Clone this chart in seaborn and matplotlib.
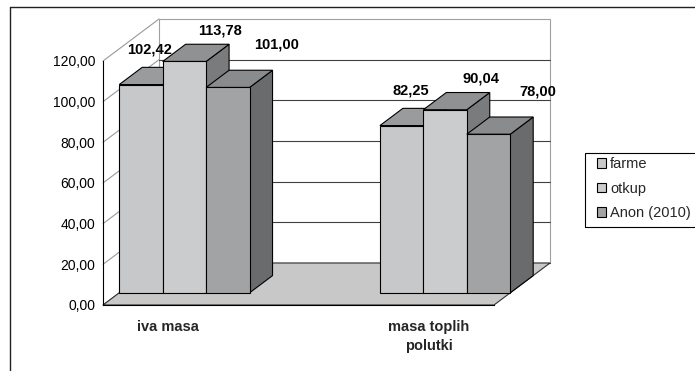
import numpy as np
import pandas as pd
import matplotlib
matplotlib.use("Agg")
import matplotlib.pyplot as plt
from matplotlib.patches import Polygon, Rectangle
from matplotlib.lines import Line2D
from matplotlib.transforms import Affine2D
import seaborn as sns

# ---------------- data ----------------
categories = ["iva masa", "", "masa toplih\npolutki"]
series = ["farme", "otkup", "Anon (2010)"]
farme = [102.42, 82.25]
otkup = [113.78, 90.04]
anon = [101.00, 78.00]
data_categories = ["iva masa", "masa toplih\npolutki"]
y_ticks = [0, 20, 40, 60, 80, 100, 120]
y_tick_labels = ["0,00", "20,00", "40,00", "60,00", "80,00", "100,00", "120,00"]

rows = []
for name, vals in zip(series, [farme, otkup, anon]):
    for cat, v in zip(data_categories, vals):
        rows.append({"kategorija": cat, "serija": name, "vrijednost": v})
df = pd.DataFrame(rows)

# ---------------- style ----------------
sns.set_style("white")
plt.rcParams["font.family"] = ["Liberation Sans", "DejaVu Sans"]

front_colors = ["#c7c8ca", "#cbcccd", "#a2a3a5"]
top_colors = ["#9a9b9d", "#909193", "#8a8b8d"]
side_colors = ["#7c7d7f", "#7a7b7d", "#6a6b6d"]

W, H = 695, 371
fig = plt.figure(figsize=(W / 100, H / 100), dpi=100)
ax = fig.add_axes([103 / W, 1 - 305 / H, 391 / W, 244 / H])

sns.barplot(data=df, x="kategorija", y="vrijednost", hue="serija",
            order=categories, hue_order=series, palette=front_colors,
            width=1.0, errorbar=None, edgecolor="black", linewidth=0.8,
            saturation=1, ax=ax)

ax.set_xlim(-0.5, 2.5)
ax.set_ylim(0, 120)
ax.set_xlabel("")
ax.set_ylabel("")

# collect bars (with their series index) before adding other patches
bars = []
for si, cont in enumerate(ax.containers):
    for p in cont:
        h = p.get_height()
        if np.isfinite(h) and h > 0:
            bars.append((si, p))

# depth vector (data units) of the 3D box
px_x = 391 / 3.0          # pixels per category
px_y = 244 / 120.0        # pixels per value unit
Dx, Dy = 56 / px_x, 42 / px_y
front_frac, bar_frac = 0.29, 0.41

# back wall + gridlines
wall = Polygon([(-0.5 + Dx, Dy), (2.5 + Dx, Dy), (2.5 + Dx, 120 + Dy), (-0.5 + Dx, 120 + Dy)],
               closed=True, facecolor="white", edgecolor="#a0a0a0", lw=0.8,
               clip_on=False, zorder=0.5)
ax.add_patch(wall)
for t in y_ticks[:-1]:
    ax.plot([-0.5 + Dx, 2.5 + Dx], [t + Dy, t + Dy], color="#404040", lw=0.8,
            clip_on=False, zorder=0.6)
for t in y_ticks:
    ax.plot([-0.5, -0.5 + Dx], [t, t + Dy], color="#999999", lw=0.8,
            clip_on=False, zorder=0.6)

floor = Polygon([(-0.5, 0), (2.5, 0), (2.5 + Dx, Dy), (-0.5 + Dx, Dy)], closed=True,
                facecolor="#c8c8c8", edgecolor="#303030", lw=0.8, clip_on=False, zorder=0.7)
ax.add_patch(floor)

# 3D bars: shift fronts to their depth and add top/side faces
shift = Affine2D().translate(front_frac * Dx, front_frac * Dy) + ax.transData
bdx, bdy = bar_frac * Dx, bar_frac * Dy
for si, p in bars:
    x, w, h = p.get_x(), p.get_width(), p.get_height()
    z = 2 + x
    p.set_transform(shift)
    p.set_zorder(z + 0.02)
    p.set_clip_on(False)
    side = Polygon([(x + w, 0), (x + w + bdx, bdy), (x + w + bdx, h + bdy), (x + w, h)],
                   closed=True, facecolor=side_colors[si], edgecolor="black", lw=0.8,
                   transform=shift, clip_on=False, zorder=z)
    top = Polygon([(x, h), (x + w, h), (x + w + bdx, h + bdy), (x + bdx, h + bdy)],
                  closed=True, facecolor=top_colors[si], edgecolor="black", lw=0.8,
                  transform=shift, clip_on=False, zorder=z + 0.01)
    ax.add_patch(side)
    ax.add_patch(top)

# value labels
label_dx_px = [-14, 13, 26]
label_dy_px = [18, 14, 26]
for si, p in bars:
    x, w, h = p.get_x(), p.get_width(), p.get_height()
    cx = x + w / 2 + (front_frac + bar_frac) * Dx + label_dx_px[si] / px_x
    cy = h + (front_frac + bar_frac) * Dy + label_dy_px[si] / px_y
    ax.text(cx, cy, f"{h:.2f}".replace(".", ","), ha="center", va="center",
            fontsize=10.5, fontweight="bold", color="black", clip_on=False, zorder=10)

# axes
for s in ["top", "right"]:
    ax.spines[s].set_visible(False)
for s in ["left", "bottom"]:
    ax.spines[s].set_color("black")
    ax.spines[s].set_linewidth(0.8)
ax.set_yticks(y_ticks, labels=y_tick_labels)
ax.tick_params(axis="y", direction="out", length=4.5, width=0.8, pad=1.2,
               labelsize=10, colors="black")
ax.set_xticks([-0.5, 0.5, 1.5, 2.5], labels=["", "", "", ""])
ax.tick_params(axis="x", which="major", direction="out", length=4, width=0.8, colors="black")
ax.set_xticks([0, 1, 2], labels=categories, minor=True)
ax.tick_params(axis="x", which="minor", length=0, pad=10.5, labelsize=10.5)
for lab in ax.get_xticklabels(minor=True):
    lab.set_fontweight("bold")
    lab.set_linespacing(1.5)
    lab.set_verticalalignment("top")

# legend (frame drawn separately: it runs past the right edge)
handles, labels = ax.get_legend_handles_labels()
if ax.get_legend() is not None:
    ax.get_legend().remove()
leg = fig.legend(handles, labels, loc="upper left",
                 bbox_to_anchor=(597 / W, 1 - 157 / H), bbox_transform=fig.transFigure,
                 frameon=False, fontsize=10.5, handlelength=0.65, handleheight=0.65,
                 handletextpad=0.25, labelspacing=0.73, borderpad=0, borderaxespad=0)
fig.add_artist(Rectangle((585 / W, 1 - 227 / H), 130 / W, 74 / H,
                         transform=fig.transFigure, fill=False,
                         edgecolor="black", lw=0.8, clip_on=False))

# outer frame (cropped at right and bottom)
fig.add_artist(Line2D([10 / W, 1], [1 - 7 / H, 1 - 7 / H], transform=fig.transFigure,
                      color="#222222", lw=1.0))
fig.add_artist(Line2D([10 / W, 10 / W], [0, 1 - 7 / H], transform=fig.transFigure,
                      color="#222222", lw=1.0))

fig.savefig("out.png", dpi=100)
